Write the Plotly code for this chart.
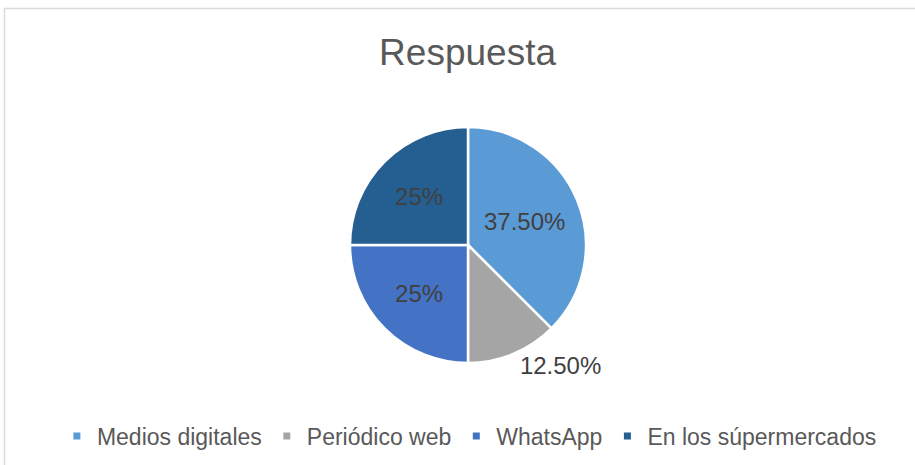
import plotly.graph_objects as go

categories = ["Medios digitales", "Periódico web", "WhatsApp", "En los súpermercados"]
shares = [37.5, 12.5, 25, 25]
share_labels = ["37.50%", "12.50%", "25%", "25%"]
colors = ["#5B9BD5", "#A5A5A5", "#4472C4", "#255E91"]

W, H = 915, 465

fig = go.Figure()
fig.add_trace(go.Pie(
    labels=categories,
    values=shares,
    text=share_labels,
    texttemplate="%{text}",
    textposition=["inside", "outside", "inside", "inside"],
    insidetextorientation="horizontal",
    textfont=dict(size=24, color="#404040"),
    outsidetextfont=dict(size=24, color="#404040"),
    marker=dict(colors=colors, line=dict(color="white", width=2.5)),
    sort=False,
    direction="clockwise",
    rotation=0,
    showlegend=False,
    hoverinfo="label+percent",
    domain=dict(x=[350 / W, 586 / W], y=[1 - 363 / H, 1 - 127 / H]),
))

# small square legend keys, like the original
for name, c in zip(categories, colors):
    fig.add_trace(go.Scatter(x=[None], y=[None], mode="markers", name=name,
                             marker=dict(symbol="square", size=7, color=c)))

fig.add_shape(type="rect", xref="paper", yref="paper",
              x0=4.5 / W, x1=1.2, y0=-0.2, y1=1 - 8.5 / H,
              line=dict(color="#D9D9D9", width=1.5))

fig.update_layout(
    width=W, height=H,
    margin=dict(l=0, r=0, t=0, b=0),
    paper_bgcolor="white",
    plot_bgcolor="white",
    xaxis=dict(visible=False),
    yaxis=dict(visible=False),
    font=dict(family="Liberation Sans, Arial, sans-serif", color="#595959"),
    title=dict(text="Respuesta", x=0.511, xanchor="center", y=1 - 52 / H, yanchor="middle",
               font=dict(size=37, color="#595959")),
    legend=dict(orientation="h", x=0.513, xanchor="center", y=1 - 436 / H, yanchor="middle",
                font=dict(size=23, color="#595959"), itemwidth=30),
)

fig.write_html("out.html", config={"displayModeBar": False},
               post_script="document.body.style.margin='0px';")
